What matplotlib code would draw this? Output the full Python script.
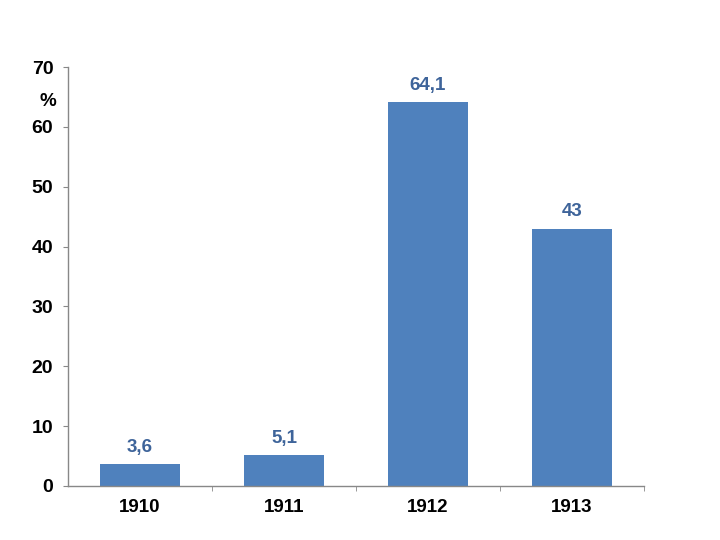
import matplotlib

matplotlib.use("Agg")

import matplotlib.pyplot as plt
import numpy as np

years = ["1910", "1911", "1912", "1913"]
values = [3.6, 5.1, 64.1, 43]
labels = ["3,6", "5,1", "64,1", "43"]
y_ticks = [0, 10, 20, 30, 40, 50, 60, 70]

plt.rcParams["font.family"] = ["Liberation Sans", "DejaVu Sans"]

fig = plt.figure(figsize=(7.2, 5.4), dpi=100)
ax = fig.add_axes([68 / 720, 54 / 540, 576 / 720, 419 / 540])

x = np.arange(len(years))
bars = ax.bar(x, values, width=0.55, color="#4F81BD", zorder=2)

for xi, v, lab in zip(x, values, labels):
    ax.text(xi, v + 1.4, lab, ha="center", va="bottom", fontsize=13.5,
            fontweight="bold", color="#3E649A")

ax.set_xlim(-0.5, 3.5)
ax.set_ylim(0, 70)
ax.set_yticks(y_ticks)
ax.set_yticklabels([str(t) for t in y_ticks], fontsize=14, fontweight="bold")
ax.set_xticks(x)
ax.set_xticklabels(years, fontsize=13.5, fontweight="bold")
ax.set_xticks(np.arange(0.5, 4, 1), minor=True)
ax.tick_params(axis="x", which="major", length=0, pad=9)
ax.tick_params(axis="x", which="minor", length=3.6, direction="out", color="#888888")
ax.tick_params(axis="y", length=3.6, direction="out", color="#888888", pad=7)

for side in ["top", "right"]:
    ax.spines[side].set_visible(False)
for side in ["left", "bottom"]:
    ax.spines[side].set_color("#888888")
    ax.spines[side].set_linewidth(1)

fig.text(48 / 720, 1 - 101 / 540, "%", ha="center", va="center",
         fontsize=13.5, fontweight="bold")

fig.savefig("out.png", dpi=100)
